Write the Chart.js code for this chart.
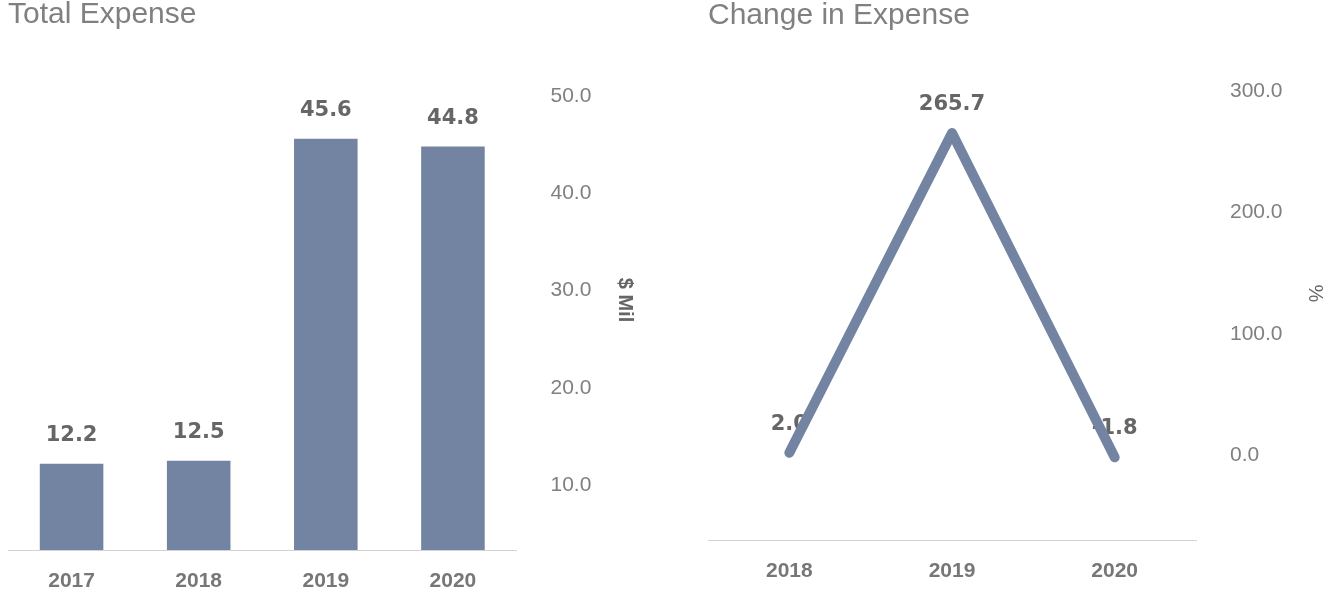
<!DOCTYPE html>
<html><head><meta charset="utf-8">
<script src="https://cdn.jsdelivr.net/npm/chart.js@4.4.0/dist/chart.umd.min.js"></script>
<style>
html,body{margin:0;padding:0;background:#fff;overflow:hidden;}
.w{position:absolute;top:0;height:599px;}
</style></head><body>
<div class="w" style="left:0;width:665px"><canvas id="c1"></canvas></div>
<div class="w" style="left:700px;width:629px"><canvas id="c2"></canvas></div>
<script>
const expenseYears = ['2017', '2018', '2019', '2020'];
const totalExpense = [12.2, 12.5, 45.6, 44.8];
const expenseTicks = [10, 20, 30, 40, 50];

const changeYears = ['2018', '2019', '2020'];
const changeExpense = [2.0, 265.7, -1.8];
const changeTicks = [0, 100, 200, 300];

const MAIN = 'rgb(115,132,162)';
const SANS = '"Liberation Sans", Arial, sans-serif';

const valueLabels = {
  id: 'valueLabels',
  beforeDatasetsDraw(chart) {
    const ctx = chart.ctx;
    const meta = chart.getDatasetMeta(0);
    const vals = chart.data.datasets[0].data;
    ctx.save();
    ctx.font = 'bold 21px "DejaVu Sans", Verdana, sans-serif';
    ctx.fillStyle = '#666';
    ctx.textAlign = 'center';
    ctx.textBaseline = 'alphabetic';
    meta.data.forEach((el, i) => {
      ctx.fillText(vals[i].toFixed(1), el.x, el.y - 23);
    });
    ctx.restore();
  }
};

function xAxis(h, offset) {
  return {
    offset: offset,
    grid: { display: false, drawTicks: false },
    border: { display: true, color: '#d3d3d3', width: 1 },
    ticks: { padding: 19, color: '#777', font: { family: SANS, size: 21, weight: 'bold' } },
    afterFit: s => { s.height = h; }
  };
}

function yAxis(min, max, ticks, w, title, tpad, tfont) {
  return {
    position: 'right',
    min: min, max: max,
    grid: { display: false, drawTicks: false },
    border: { display: false },
    afterBuildTicks: s => { s.ticks = ticks.map(v => ({ value: v })); },
    afterFit: s => { s.width = w; },
    ticks: { padding: 34, color: '#808080', font: { family: SANS, size: 21 }, callback: v => Number(v).toFixed(1) },
    title: { display: true, text: title, color: '#666', font: tfont, padding: { top: tpad, bottom: 0 } }
  };
}

function titleOpts(text, bottom) {
  return {
    display: true, text: text, align: 'start', color: '#808080',
    font: { family: SANS, size: 30, weight: 'normal', lineHeight: 1 },
    padding: { top: 0, bottom: bottom }
  };
}

new Chart(document.getElementById('c1'), {
  type: 'bar',
  data: {
    labels: expenseYears,
    datasets: [{ data: totalExpense, backgroundColor: MAIN, barPercentage: 0.5, categoryPercentage: 1.0 }]
  },
  options: {
    responsive: true, maintainAspectRatio: false, animation: false,
    layout: { padding: { left: 8, right: 0, top: 0, bottom: 0 } },
    plugins: { legend: { display: false }, tooltip: { enabled: false }, title: titleOpts('Total Expense', 20) },
    scales: {
      x: xAxis(49, true),
      y: yAxis(3.32, 54.73, expenseTicks, 148.5, '$ Mil', 28, { family: SANS, size: 20, weight: 'bold' })
    }
  },
  plugins: [valueLabels]
});

new Chart(document.getElementById('c2'), {
  type: 'line',
  data: {
    labels: changeYears,
    datasets: [{ data: changeExpense, borderColor: MAIN, borderWidth: 10, pointRadius: 0, tension: 0,
      borderCapStyle: 'round', borderJoinStyle: 'round', fill: false }]
  },
  options: {
    responsive: true, maintainAspectRatio: false, animation: false,
    layout: { padding: { left: 8, right: 0, top: 0, bottom: 0 } },
    plugins: { legend: { display: false }, tooltip: { enabled: false }, title: titleOpts('Change in Expense', 16) },
    scales: {
      x: xAxis(59, true),
      y: yAxis(-70, 337, changeTicks, 133, '%', 2, { family: SANS, size: 20, weight: 'normal' })
    }
  },
  plugins: [valueLabels]
});
</script>
</body></html>
